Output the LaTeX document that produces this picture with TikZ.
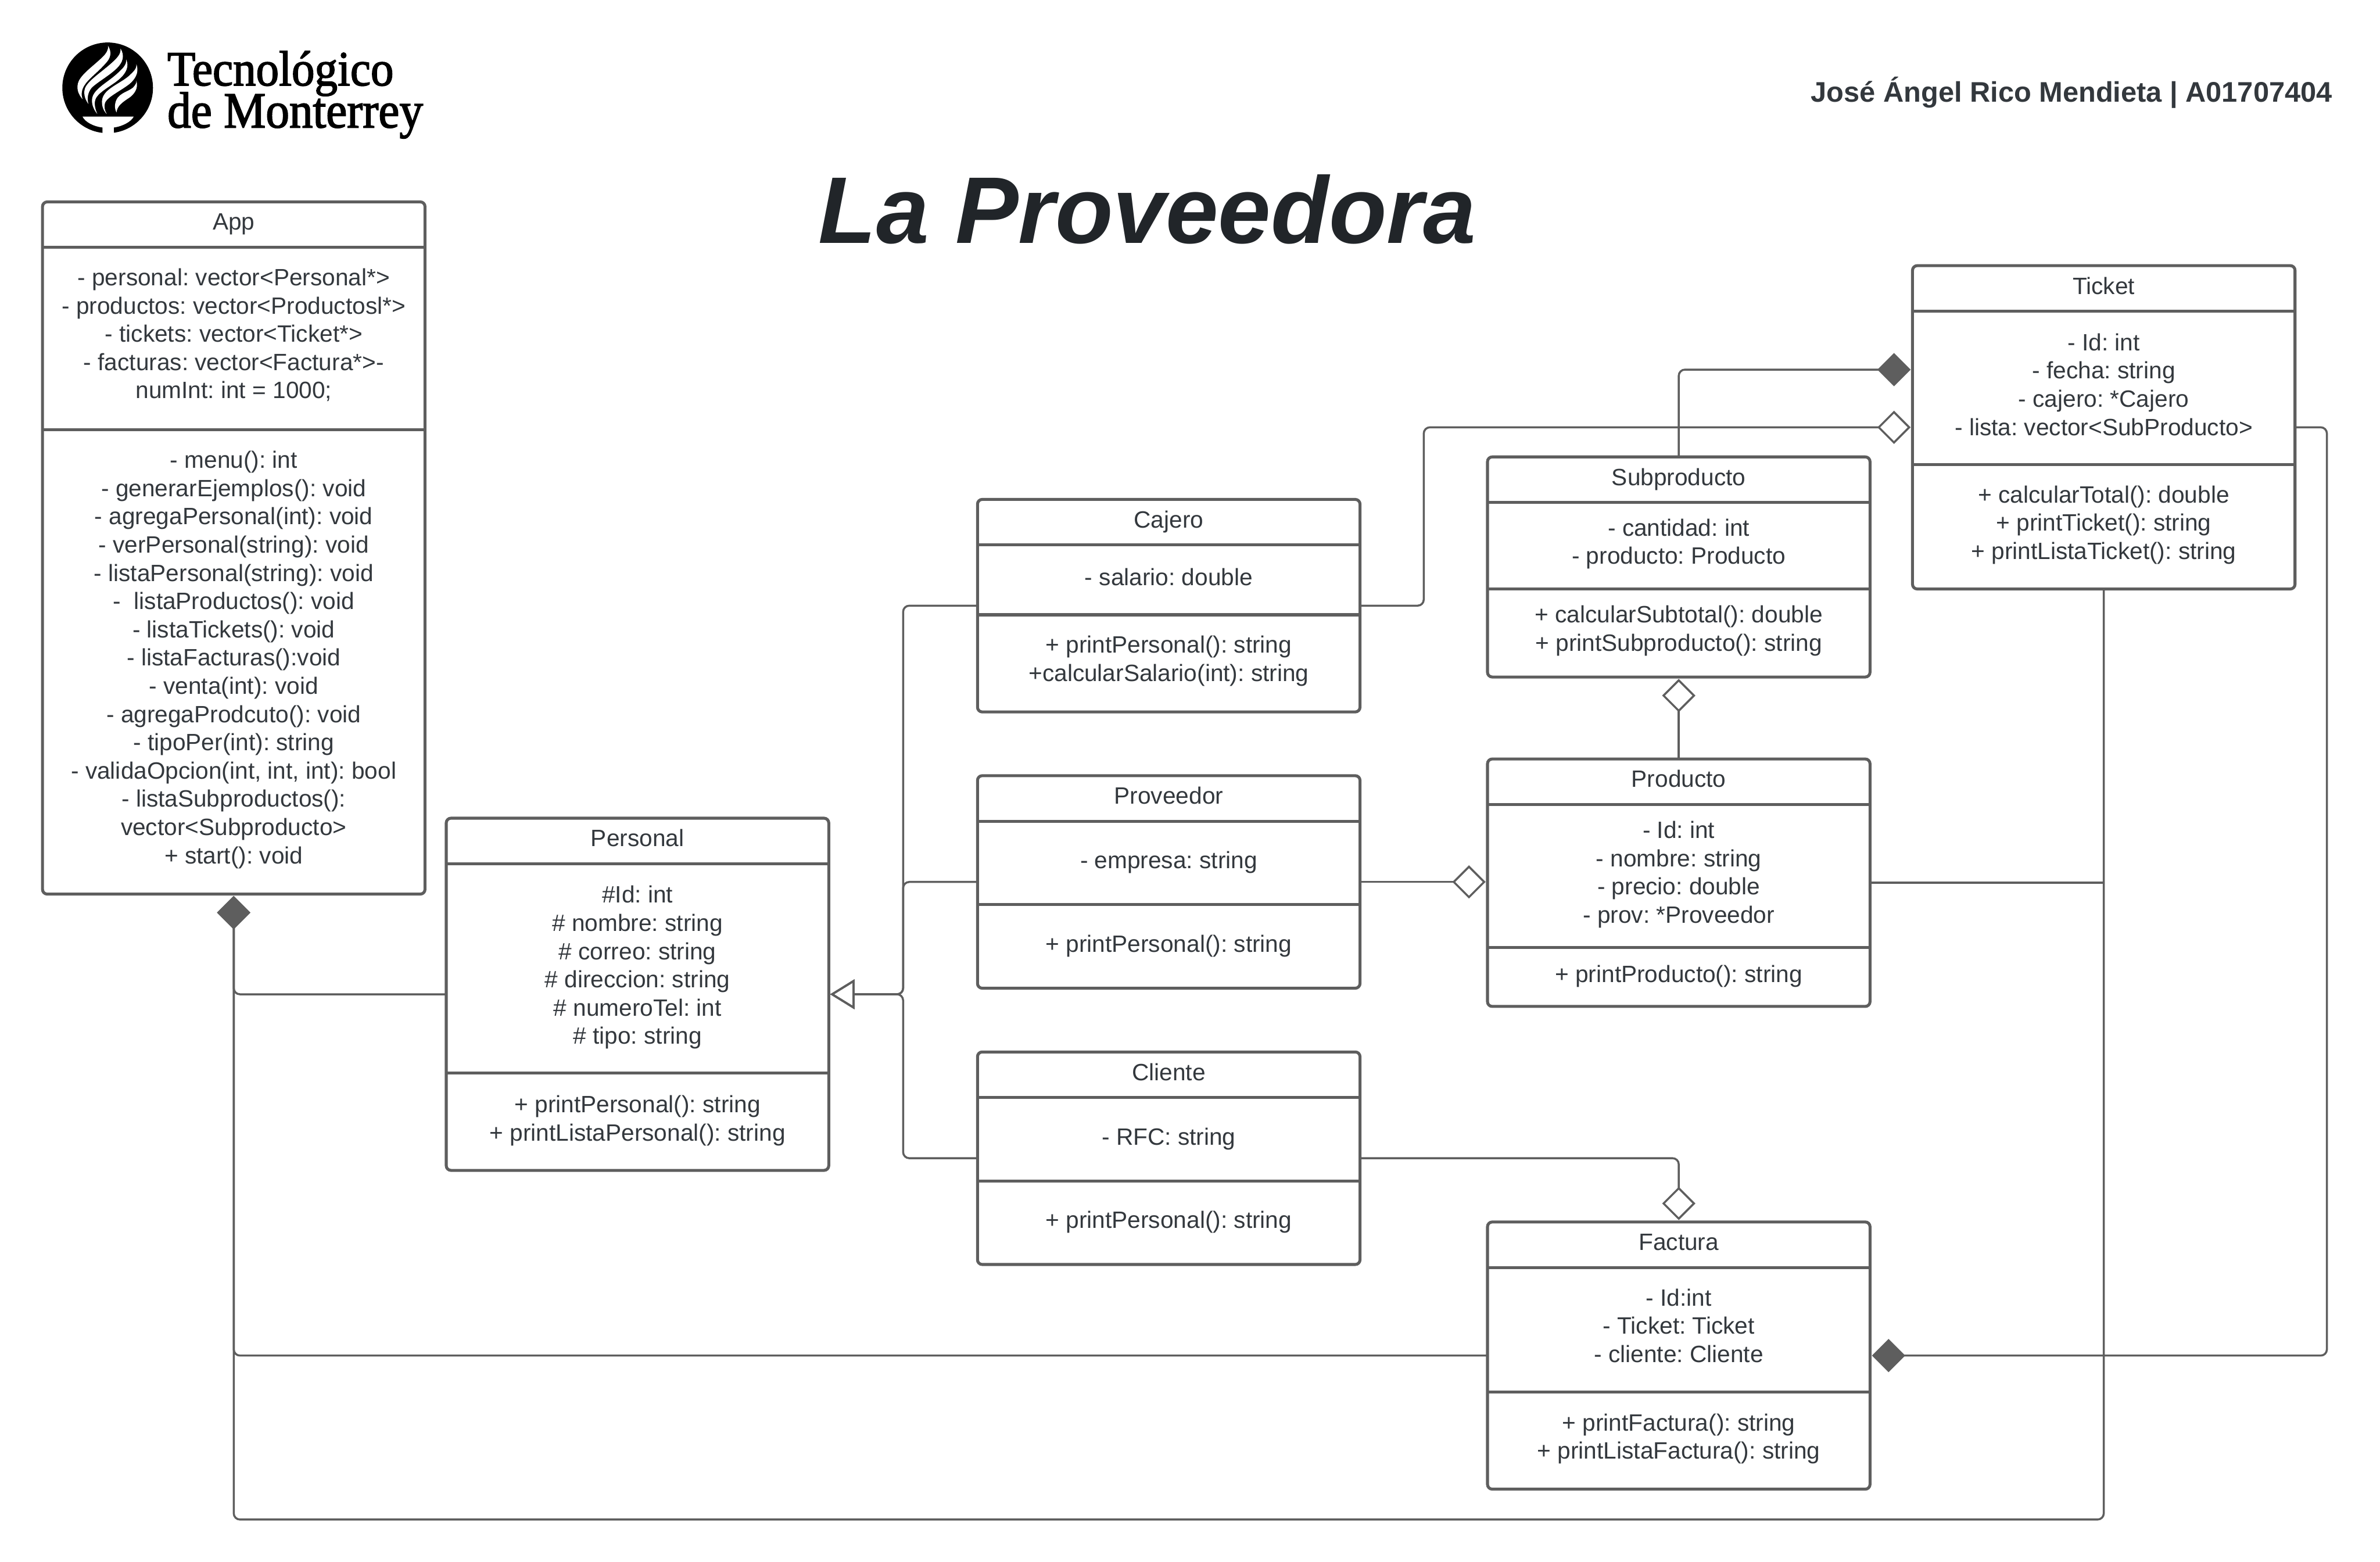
\documentclass[tikz,border=0pt]{standalone}
\usepackage{fontspec}
\setmainfont{Liberation Sans}
\newfontfamily\logofont[FakeBold=2,FakeStretch=0.93]{Liberation Serif}
\usetikzlibrary{arrows.meta}
\definecolor{linec}{HTML}{5E5E5E}
\definecolor{textc}{HTML}{33383D}
\definecolor{titlec}{HTML}{212529}
\def\Uu{0.643pt}
\tikzset{
  umlbox/.style={draw=linec,line width=1.25pt,rounded corners=2pt,inner sep=0pt,outer sep=0pt,rectangle},
  divider/.style={draw=linec,line width=1.25pt},
  txt/.style={text=textc,align=center,inner sep=0pt,outer sep=0pt,yshift=-1.3pt,font=\fontsize{10}{11.96}\selectfont\frenchspacing,execute at begin node=\strut,execute at end node=\strut},
  conn/.style={draw=linec,line width=0.85pt,rounded corners=2.6pt},
  filled/.style={conn,-{Diamond[length=14.1pt,width=14.1pt,fill=linec,sep=0.8pt]}},
  hollow/.style={conn,-{Diamond[open,length=14.1pt,width=14.1pt,sep=0.8pt]}},
  inherit/.style={conn,-{Triangle[open,length=10.3pt,width=12.5pt,sep=0.6pt]}},
  flame/.style={fill=white},
}
\begin{document}
\begin{tikzpicture}[x=0.643pt,y=-0.643pt]
\path[use as bounding box,fill=white] (0,0) rectangle (1568,1029);

% logo
\begin{scope}[shift={(37.33,24.27)},x=0.0800pt,y=-0.0800pt]
  \fill[black] (270,270) circle[radius=240];
  \path[flame] (272,47) .. controls (295,85) and (285,115) .. (255,145) .. controls (215,190) and (165,225) .. (145,260) .. controls (130,285) and (130,310) .. (137,330) .. controls (115,305) and (100,270) .. (118,232) .. controls (140,190) and (200,150) .. (245,105) .. controls (262,88) and (275,70) .. (272,47) -- cycle;
  \path[flame] (338,62) .. controls (362,100) and (350,135) .. (320,165) .. controls (280,205) and (215,240) .. (185,270) .. controls (165,295) and (160,325) .. (168,355) .. controls (148,330) and (138,290) .. (155,262) .. controls (180,222) and (240,185) .. (295,135) .. controls (320,112) and (342,90) .. (338,62) -- cycle;
  \path[flame] (368,120) .. controls (385,155) and (368,190) .. (338,218) .. controls (300,255) and (230,285) .. (208,325) .. controls (195,350) and (205,385) .. (215,408) .. controls (195,385) and (178,345) .. (192,312) .. controls (210,270) and (270,240) .. (318,197) .. controls (345,172) and (372,150) .. (368,120) -- cycle;
  \path[flame] (422,145) .. controls (440,190) and (412,228) .. (385,250) .. controls (340,285) and (275,315) .. (258,345) .. controls (248,370) and (255,390) .. (265,408) .. controls (245,390) and (232,350) .. (245,318) .. controls (265,270) and (340,245) .. (385,205) .. controls (405,185) and (425,170) .. (422,145) -- cycle;
  \path[flame] (422,232) .. controls (435,275) and (408,305) .. (385,322) .. controls (350,345) and (320,365) .. (317,400) .. controls (305,380) and (305,345) .. (325,320) .. controls (350,290) and (395,285) .. (412,260) .. controls (420,248) and (425,240) .. (422,232) -- cycle;
  \fill[white] (137,422) -- (408,422) .. controls (395,450) and (345,475) .. (303,480) -- (303,515) -- (243,515) -- (243,480) .. controls (195,475) and (150,450) .. (137,422) -- cycle;
\end{scope}
\node[anchor=base west,align=left,inner sep=0pt,text=black] (logotext) at (110,84) {\logofont\fontsize{20.9}{18}\selectfont Tecnológico\\[-2.6pt]\logofont\fontsize{21.5}{18}\selectfont de Monterrey};

\node[text=titlec,inner sep=0pt,font=\bfseries\itshape\fontsize{40.1}{46}\selectfont] (title) at (756,138) {La Proveedora};
\node[text=textc,inner sep=0pt,font=\bfseries\fontsize{12}{14}\selectfont] (author) at (1364.8,61) {José Ángel Rico Mendieta | A01707404};

% boxes
\node[umlbox,minimum width=252*\Uu,minimum height=456*\Uu] (app) at (154,361) {};
\draw[divider] (app.west |- 0,163) -- (app.east |- 0,163);
\draw[divider] (app.west |- 0,283) -- (app.east |- 0,283);
\node[txt] (appT) at (154,145.5) {App};
\node[txt] (appA) at (154,220.5) {- personal: vector<Personal*>\\- productos: vector<Productosl*>\\- tickets: vector<Ticket*>\\- facturas: vector<Factura*>-\\numInt: int = 1000;};
\node[txt] (appM) at (154,433.8) {- menu(): int\\- generarEjemplos(): void\\- agregaPersonal(int): void\\- verPersonal(string): void\\- listaPersonal(string): void\\-~~listaProductos(): void\\- listaTickets(): void\\- listaFacturas():void\\- venta(int): void\\- agregaProdcuto(): void\\- tipoPer(int): string\\- validaOpcion(int, int, int): bool\\- listaSubproductos():\\vector<Subproducto>\\+ start(): void};

\node[umlbox,minimum width=252*\Uu,minimum height=232*\Uu] (personal) at (420,655) {};
\draw[divider] (personal.west |- 0,569) -- (personal.east |- 0,569);
\draw[divider] (personal.west |- 0,707) -- (personal.east |- 0,707);
\node[txt] (personalT) at (420,552) {Personal};
\node[txt] (personalA) at (420,636.5) {\#Id: int\\\# nombre: string\\\# correo: string\\\# direccion: string\\\# numeroTel: int\\\# tipo: string};
\node[txt] (personalM) at (420,737.5) {+ printPersonal(): string\\+ printListaPersonal(): string};

\node[umlbox,minimum width=252*\Uu,minimum height=140*\Uu] (cajero) at (770,399) {};
\draw[divider] (cajero.west |- 0,359) -- (cajero.east |- 0,359);
\draw[divider] (cajero.west |- 0,405) -- (cajero.east |- 0,405);
\node[txt] (cajeroT) at (770,342) {Cajero};
\node[txt] (cajeroA) at (770,380) {- salario: double};
\node[txt] (cajeroM) at (770,434.5) {+ printPersonal(): string\\+calcularSalario(int): string};

\node[umlbox,minimum width=252*\Uu,minimum height=140*\Uu] (proveedor) at (770,581) {};
\draw[divider] (proveedor.west |- 0,541) -- (proveedor.east |- 0,541);
\draw[divider] (proveedor.west |- 0,596) -- (proveedor.east |- 0,596);
\node[txt] (proveedorT) at (770,524) {Proveedor};
\node[txt] (proveedorA) at (770,566.5) {- empresa: string};
\node[txt] (proveedorM) at (770,621.5) {+ printPersonal(): string};

\node[umlbox,minimum width=252*\Uu,minimum height=140*\Uu] (cliente) at (770,763) {};
\draw[divider] (cliente.west |- 0,723) -- (cliente.east |- 0,723);
\draw[divider] (cliente.west |- 0,778) -- (cliente.east |- 0,778);
\node[txt] (clienteT) at (770,706) {Cliente};
\node[txt] (clienteA) at (770,748.5) {- RFC: string};
\node[txt] (clienteM) at (770,803.5) {+ printPersonal(): string};

\node[umlbox,minimum width=252*\Uu,minimum height=145*\Uu] (subproducto) at (1106,373.5) {};
\draw[divider] (subproducto.west |- 0,331) -- (subproducto.east |- 0,331);
\draw[divider] (subproducto.west |- 0,388) -- (subproducto.east |- 0,388);
\node[txt] (subproductoT) at (1106,314) {Subproducto};
\node[txt] (subproductoA) at (1106,357.5) {- cantidad: int\\- producto: Producto};
\node[txt] (subproductoM) at (1106,414.8) {+ calcularSubtotal(): double\\+ printSubproducto(): string};

\node[umlbox,minimum width=252*\Uu,minimum height=163*\Uu] (producto) at (1106,581.5) {};
\draw[divider] (producto.west |- 0,530) -- (producto.east |- 0,530);
\draw[divider] (producto.west |- 0,624) -- (producto.east |- 0,624);
\node[txt] (productoT) at (1106,512.7) {Producto};
\node[txt] (productoA) at (1106,575.3) {- Id: int\\- nombre: string\\- precio: double\\- prov: *Proveedor};
\node[txt] (productoM) at (1106,641.5) {+ printProducto(): string};

\node[umlbox,minimum width=252*\Uu,minimum height=213*\Uu] (ticket) at (1386,281.5) {};
\draw[divider] (ticket.west |- 0,205) -- (ticket.east |- 0,205);
\draw[divider] (ticket.west |- 0,306) -- (ticket.east |- 0,306);
\node[txt] (ticketT) at (1386,188) {Ticket};
\node[txt] (ticketA) at (1386,254) {- Id: int\\- fecha: string\\- cajero: *Cajero\\- lista: vector<SubProducto>};
\node[txt] (ticketM) at (1386,345) {+ calcularTotal(): double\\+ printTicket(): string\\+ printListaTicket(): string};

\node[umlbox,minimum width=252*\Uu,minimum height=176*\Uu] (factura) at (1106,893) {};
\draw[divider] (factura.west |- 0,835) -- (factura.east |- 0,835);
\draw[divider] (factura.west |- 0,917) -- (factura.east |- 0,917);
\node[txt] (facturaT) at (1106,818) {Factura};
\node[txt] (facturaA) at (1106,874) {- Id:int\\- Ticket: Ticket\\- cliente: Cliente};
\node[txt] (facturaM) at (1106,947) {+ printFactura(): string\\+ printListaFactura(): string};

% free routing points
\coordinate (busP) at (595,655);
\coordinate (tcomp) at (1260,243.5);
\coordinate (ajog) at (938,399);
\coordinate (ajogb) at (938,281.5);
\coordinate (rt) at (1533,281.5);
\coordinate (rb) at (1533,893);
\coordinate (bot) at (154,1001);
\coordinate (cj) at (1106,763);
\coordinate (tj) at (1386,581.5);

% connectors
\draw[filled] (personal.west) -| (app.south);
\draw[filled] (factura.west) -| (app.south);
\draw[filled] (ticket.south) |- (bot) -- (app.south);
\draw[conn] (producto.east) -- (tj);
\draw[filled] (ticket.east) -- (rt) -- (rb) -- (factura.east);
\draw[filled] (subproducto.north) |- (tcomp);
\draw[hollow] (cajero.east) -- (ajog) -- (ajogb) -- (ticket.west);
\draw[hollow] (producto.north) -- (subproducto.south);
\draw[hollow] (proveedor.east) -- (producto.west |- proveedor.east);
\draw[hollow] (cliente.east) -- (cj) -- (factura.north);
\draw[inherit] (cajero.west) -| (busP) -- (personal.east);
\draw[inherit] (proveedor.west) -| (busP) -- (personal.east);
\draw[inherit] (cliente.west) -| (busP) -- (personal.east);
\end{tikzpicture}
\end{document}
